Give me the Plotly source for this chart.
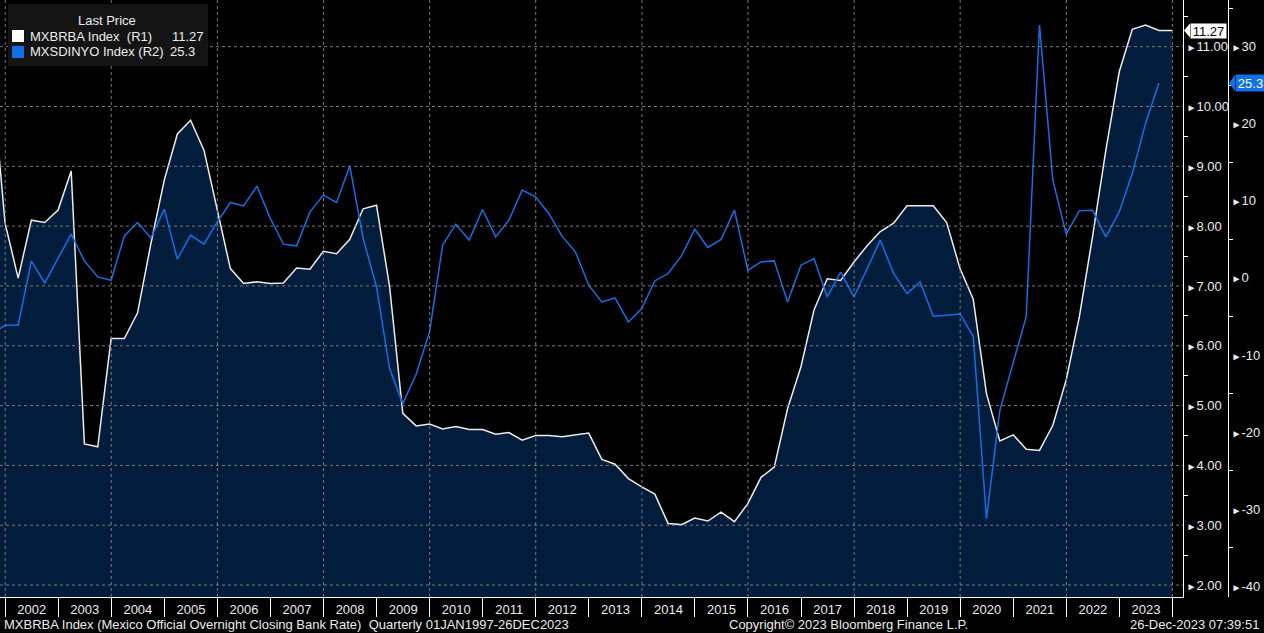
import plotly.graph_objects as go

# quarter-end dates, Q3 2001 .. Q4 2023
dates = [f"{y}-{md}" for y in range(2001, 2024)
         for md in ("03-31", "06-30", "09-30", "12-31")][2:]

# MXBRBA Index (R1), Mexico overnight bank rate, %
mxbrba = [10.55, 8.05,
          7.13, 8.10, 8.06, 8.27,
          8.92, 4.36, 4.31, 6.12,
          6.12, 6.55, 7.71, 8.77,
          9.54, 9.77, 9.27, 8.27,
          7.29, 7.04, 7.07, 7.04,
          7.05, 7.30, 7.28, 7.58,
          7.54, 7.78, 8.29, 8.35,
          6.99, 4.87, 4.66, 4.69,
          4.61, 4.65, 4.60, 4.60,
          4.52, 4.55, 4.42, 4.50,
          4.50, 4.48, 4.51, 4.54,
          4.10, 4.02, 3.78, 3.64,
          3.52, 3.03, 3.01, 3.12,
          3.07, 3.22, 3.06, 3.36,
          3.80, 3.97, 4.95, 5.65,
          6.60, 7.12, 7.09, 7.40,
          7.67, 7.91, 8.05, 8.34,
          8.34, 8.34, 8.06, 7.29,
          6.78, 5.20, 4.41, 4.51,
          4.27, 4.25, 4.67, 5.43,
          6.48, 7.82, 9.27, 10.58,
          11.29, 11.36, 11.27, 11.27]

# MXSDINYO Index (R2), ends Q3 2023
mxsdinyo = [-7.27, -6.14,
            -6.14, 2.17, -0.65, 2.52,
            5.68, 2.21, 0.13, -0.30,
            5.45, 7.19, 5.19, 8.92,
            2.43, 5.55, 4.38, 7.27,
            9.79, 9.35, 11.91, 7.71,
            4.38, 4.16, 8.57, 10.74,
            9.79, 14.51, 5.12, -1.17,
            -11.77, -16.31, -12.51, -7.01,
            4.25, 6.97, 4.90, 8.88,
            5.32, 7.49, 11.39, 10.52,
            8.36, 5.42, 3.38, -0.95,
            -3.12, -2.60, -5.71, -3.97,
            -0.39, 0.57, 2.86, 6.32,
            3.95, 4.99, 8.79, 1.00,
            2.08, 2.21, -3.12, 1.65,
            2.52, -2.47, 0.74, -2.47,
            1.17, 4.90, 0.60, -2.03,
            -0.52, -4.97, -4.84, -4.68,
            -7.57, -31.25, -17.18, -11.12,
            -5.00, 32.82, 12.69, 5.68,
            8.70, 8.79, 5.32, 8.57,
            13.56, 20.05, 25.3]

r1_ticks = [2, 3, 4, 5, 6, 7, 8, 9, 10, 11]
r2_ticks = [-40, -30, -20, -10, 0, 10, 20, 30]
grid_years = list(range(2002, 2025, 2))

R1_RANGE = [1.80, 11.78]
R2_RANGE = [-41.4, 36.06]

FONT = "Liberation Sans, Arial, sans-serif"
FS = 13
TXT = "#ececec"
WHITE_LINE = "#ececec"
BLUE = "#1170e8"
NAVY = "#021d3b"
GRID = "#7a7a7a"

# pixel helpers (paper spans 0..1228 px wide, 0..597 px high)
PW, PH = 1228, 597
def px(x):
    return x / PW
def py(y):
    return 1 - y / PH

TRI = '<span style="font-size:10px">\u25ba</span>'

fig = go.Figure()

fig.add_trace(go.Scatter(
    x=dates, y=mxbrba, mode="lines",
    line=dict(color=WHITE_LINE, width=1.5),
    fill="tozeroy", fillcolor=NAVY,
    name="MXBRBA Index", showlegend=False, hoverinfo="skip"))

fig.add_trace(go.Scatter(
    x=dates[:len(mxsdinyo)], y=mxsdinyo, mode="lines", yaxis="y2",
    line=dict(color=BLUE, width=1.5),
    name="MXSDINYO Index", showlegend=False, hoverinfo="skip"))

# dotted grid drawn above the fill
for v in r1_ticks:
    fig.add_shape(type="line", xref="x domain", yref="y", x0=0, x1=1, y0=v, y1=v,
                  line=dict(color=GRID, width=1, dash="dot"), layer="above")
for yr in grid_years:
    fig.add_shape(type="line", xref="x", yref="y domain", x0=f"{yr}-01-01", x1=f"{yr}-01-01",
                  y0=0, y1=1, line=dict(color=GRID, width=1, dash="dot"), layer="above")

# legend box
fig.add_shape(type="rect", xref="paper", yref="paper", x0=px(8), x1=px(208), y0=py(66), y1=py(4),
              fillcolor="#141414", line=dict(width=0), layer="above")
fig.add_shape(type="rect", xref="paper", yref="paper", x0=px(12), x1=px(24), y0=py(42), y1=py(30),
              fillcolor="white", line=dict(width=0), layer="above")
fig.add_shape(type="rect", xref="paper", yref="paper", x0=px(12), x1=px(24), y0=py(58), y1=py(46),
              fillcolor=BLUE, line=dict(width=0), layer="above")

def note(x, y, text, anchor="left", size=FS, color=TXT, **kw):
    fig.add_annotation(xref="paper", yref="paper", x=x, y=y, text=text, showarrow=False,
                       xanchor=anchor, yanchor="middle",
                       font=dict(family=FONT, size=size, color=color), **kw)

note(px(107), py(20), "Last Price", anchor="center")
note(px(28), py(36), "MXBRBA Index&nbsp;&nbsp;(R1)")
note(px(28), py(52), "MXSDINYO Index&nbsp;(R2)")
note(px(170), py(36), f"{mxbrba[-1]:.2f}")
note(px(168), py(52), f"{mxsdinyo[-1]:.1f}")

# last value tags on the axes
y1p = (mxbrba[-1] - R1_RANGE[0]) / (R1_RANGE[1] - R1_RANGE[0])
y2p = (mxsdinyo[-1] - R2_RANGE[0]) / (R2_RANGE[1] - R2_RANGE[0])
fig.add_annotation(xref="paper", yref="paper", x=px(1190), y=y1p, text=f"{mxbrba[-1]:.2f}",
                   showarrow=False, xanchor="left", yanchor="middle", bgcolor="white",
                   width=35, height=14, borderpad=0,
                   font=dict(family=FONT, size=FS, color="black"))
fig.add_shape(type="path", xref="paper", yref="paper", layer="above",
              path=f"M {px(1184)},{y1p} L {px(1190)},{y1p + 7 / PH} L {px(1190)},{y1p - 7 / PH} Z",
              fillcolor="white", line=dict(width=0))
fig.add_annotation(xref="paper", yref="paper", x=px(1235), y=y2p, text=f"{mxsdinyo[-1]:.1f}",
                   showarrow=False, xanchor="left", yanchor="middle", bgcolor=BLUE,
                   width=29, height=16, borderpad=0,
                   font=dict(family=FONT, size=FS, color="white"))
fig.add_shape(type="path", xref="paper", yref="paper", layer="above",
              path=f"M {px(1229)},{y2p} L {px(1235)},{y2p + 8 / PH} L {px(1235)},{y2p - 8 / PH} Z",
              fillcolor=BLUE, line=dict(width=0))

# footer
note(px(2), py(624), "MXBRBA Index (Mexico Official Overnight Closing Bank Rate)&nbsp;&nbsp;Quarterly 01JAN1997-26DEC2023")
note(px(848), py(624), "Copyright\u00a9 2023 Bloomberg Finance L.P.", anchor="center")
note(px(1261), py(624), "26-Dec-2023 07:39:51", anchor="right")

fig.update_layout(
    width=1264, height=633,
    margin=dict(l=0, r=36, t=0, b=36),
    paper_bgcolor="black", plot_bgcolor="black",
    font=dict(family=FONT, size=FS, color=TXT),
    xaxis=dict(
        domain=[0, 1183 / PW], type="date", range=["2001-11-26", "2024-03-14"],
        tick0="2002-01-01", dtick="M12", tickformat="%Y", ticklabelmode="period",
        ticks="outside", ticklen=19, tickcolor="white", tickwidth=1,
        ticklabelstandoff=-19,
        showline=True, linecolor="white", linewidth=1,
        showgrid=False, zeroline=False, tickfont=dict(size=FS, color=TXT)),
    yaxis=dict(
        side="right", range=R1_RANGE,
        tickmode="array", tickvals=r1_ticks, ticktext=[TRI + f"{v:.2f}" for v in r1_ticks],
        ticks="", showline=True, linecolor="white", linewidth=1,
        showgrid=False, zeroline=False, tickfont=dict(size=FS, color=TXT),
        minor=dict(tickmode="linear", tick0=0.5, dtick=1, ticks="outside", ticklen=4,
                   tickcolor="white", showgrid=False)),
    yaxis2=dict(
        overlaying="y", side="right", anchor="free", position=1.0, range=R2_RANGE,
        tickmode="array", tickvals=r2_ticks, ticktext=[TRI + f"{v}" for v in r2_ticks],
        ticks="", showline=True, linecolor="white", linewidth=1,
        showgrid=False, zeroline=False, tickfont=dict(size=FS, color=TXT),
        minor=dict(tickmode="linear", tick0=5, dtick=10, ticks="outside", ticklen=4,
                   tickcolor="white", showgrid=False)),
)

# page has a default body margin; drop it so the figure sits at the window's corner
fig.write_html("out.html", config={"displayModeBar": False},
               post_script="document.body.style.margin='0';")
